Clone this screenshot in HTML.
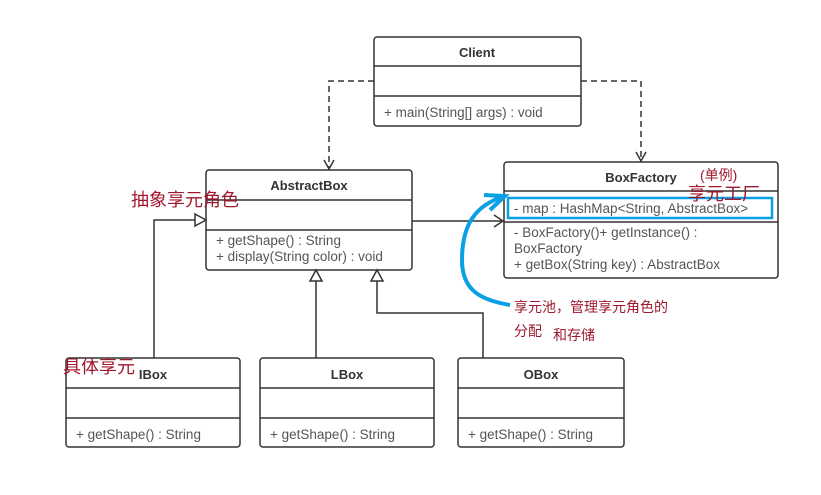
<!DOCTYPE html>
<html><head><meta charset="utf-8"><style>
html,body{margin:0;padding:0;background:#fff;}
svg{display:block;}
.t{font-family:"Liberation Sans","Noto Sans CJK SC",sans-serif;font-size:13.5px;fill:#555;}
.b{font-family:"Liberation Sans",sans-serif;font-size:13px;font-weight:bold;fill:#333;}
.r{font-family:"Liberation Sans","Noto Sans CJK SC",sans-serif;fill:#a0182c;}
</style></head><body>
<svg width="821" height="495" viewBox="0 0 821 495" xmlns="http://www.w3.org/2000/svg">
<g fill="#fff" stroke="#333" stroke-width="1.5">
<rect x="374" y="37" width="207" height="89" rx="3"/>
<line x1="374" y1="66" x2="581" y2="66"/><line x1="374" y1="96" x2="581" y2="96"/>
<rect x="206" y="170" width="206" height="100" rx="3"/>
<line x1="206" y1="200" x2="412" y2="200"/><line x1="206" y1="230" x2="412" y2="230"/>
<rect x="504" y="162" width="274" height="116" rx="3"/>
<line x1="504" y1="191" x2="778" y2="191"/><line x1="504" y1="222" x2="778" y2="222"/>
<rect x="66" y="358" width="174" height="89" rx="3"/>
<line x1="66" y1="388" x2="240" y2="388"/><line x1="66" y1="418" x2="240" y2="418"/>
<rect x="260" y="358" width="174" height="89" rx="3"/>
<line x1="260" y1="388" x2="434" y2="388"/><line x1="260" y1="418" x2="434" y2="418"/>
<rect x="458" y="358" width="166" height="89" rx="3"/>
<line x1="458" y1="388" x2="624" y2="388"/><line x1="458" y1="418" x2="624" y2="418"/>
</g>
<g fill="none" stroke="#333" stroke-width="1.5">
<path d="M374 81 H329 V168" stroke-dasharray="6,4"/>
<path d="M324 160 L329 169 L334 160"/>
<path d="M581 81 H641 V160" stroke-dasharray="6,4"/>
<path d="M636 152 L641 161 L646 152"/>
<path d="M412 221 H503"/>
<path d="M494 215 L503 221 L494 227"/>
<path d="M154 358 V220 H196"/>
<path d="M316 358 V280"/>
<path d="M483 358 V313 H377 V280"/>
</g>
<g fill="#fff" stroke="#333" stroke-width="1.5">
<path d="M206 220 L195 214 L195 226 Z"/>
<path d="M316 270 L310 281 L322 281 Z"/>
<path d="M377 270 L371 281 L383 281 Z"/>
</g>
<rect x="508" y="198" width="264" height="20" fill="none" stroke="#0aa0e6" stroke-width="2.5"/>
<path d="M510 305 C480 300 462 290 462 260 C462 225 475 205 505 196" fill="none" stroke="#0aa0e6" stroke-width="4"/>
<path d="M484 195 L505 196 L490 210" fill="none" stroke="#0aa0e6" stroke-width="4"/>
<text class="b" x="477" y="57" text-anchor="middle">Client</text>
<text class="t" x="384" y="117">+ main(String[] args) : void</text>
<text class="b" x="309" y="190" text-anchor="middle">AbstractBox</text>
<text class="t" x="216" y="245">+ getShape() : String</text>
<text class="t" x="216" y="261">+ display(String color) : void</text>
<text class="b" x="641" y="182" text-anchor="middle">BoxFactory</text>
<text class="t" x="514" y="213">- map : HashMap&lt;String, AbstractBox&gt;</text>
<text class="t" x="514" y="237">- BoxFactory()+ getInstance() :</text>
<text class="t" x="514" y="253">BoxFactory</text>
<text class="t" x="514" y="269">+ getBox(String key) : AbstractBox</text>
<text class="b" x="153" y="379" text-anchor="middle">IBox</text>
<text class="b" x="347" y="379" text-anchor="middle">LBox</text>
<text class="b" x="541" y="379" text-anchor="middle">OBox</text>
<text class="t" x="76" y="439">+ getShape() : String</text>
<text class="t" x="270" y="439">+ getShape() : String</text>
<text class="t" x="468" y="439">+ getShape() : String</text>
<text class="r" x="131" y="206" font-size="18">抽象享元角色</text>
<text class="r" x="63" y="373" font-size="18">具体享元</text>
<text class="r" x="700" y="180" font-size="14">(单例)</text>
<text class="r" x="688" y="200" font-size="18">享元工厂</text>
<text class="r" x="514" y="312" font-size="14">享元池，管理享元角色的</text>
<text class="r" x="514" y="336" font-size="14">分配</text>
<text class="r" x="553" y="340" font-size="14">和存储</text>
</svg>
</body></html>
